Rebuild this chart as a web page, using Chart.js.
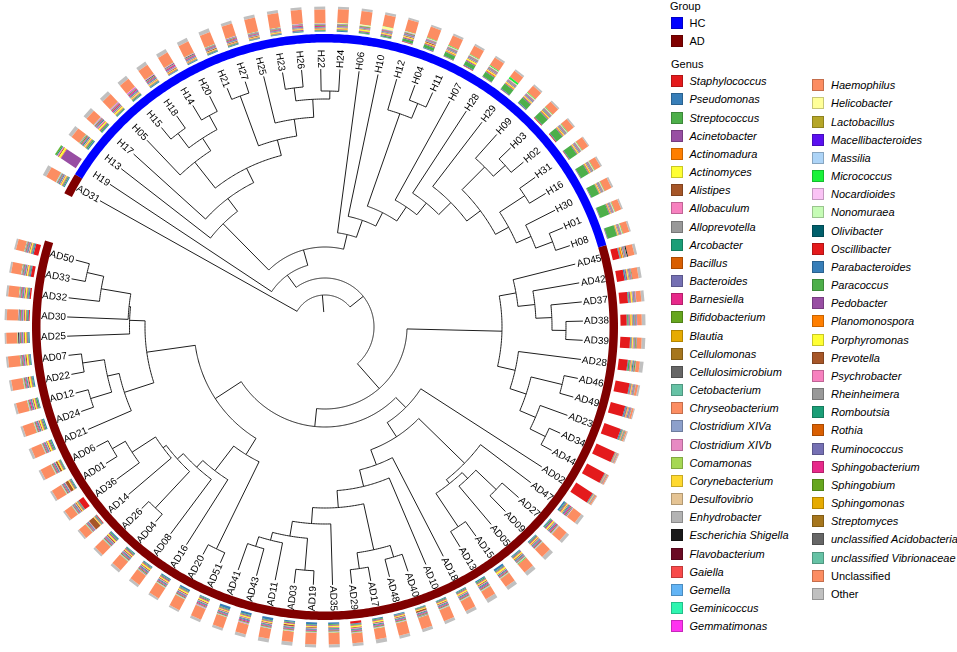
<!DOCTYPE html>
<html><head><meta charset="utf-8">
<script src="https://cdn.jsdelivr.net/npm/chart.js"></script>
<style>
html,body{margin:0;padding:0;background:#fff;}
#wrap{position:relative;width:957px;height:652px;overflow:hidden;font-family:"Liberation Sans",Arial,Helvetica,sans-serif;color:#000;}
#tree{position:absolute;left:0;top:0;}
#labels,#legend{position:absolute;left:0;top:0;}
.tipwrap{position:absolute;width:0;height:0;transform-origin:0 0;}
.tip{position:absolute;top:-5px;font-size:10px;line-height:10px;white-space:nowrap;}
.tip.r{left:0;} .tip.l{right:0;}
.lg-title{position:absolute;font-size:11px;line-height:12px;white-space:nowrap;}
.lg-sq{position:absolute;width:12px;height:12px;box-shadow:inset 0 0 0 1px rgba(0,0,0,0.22);}
.lg-tx{position:absolute;font-size:11px;line-height:12px;white-space:nowrap;}
</style></head>
<body><div id="wrap"><canvas id="tree" width="650" height="652"></canvas><div id="labels"></div><div id="legend"></div></div>
<script>
// ---------------- data ----------------
const sampleOrder = ['AD31','H19','H13','H17','H05','H15','H18','H14','H20','H21',
 'H27','H25','H23','H26','H22','H24','H06','H10','H12','H04',
 'H11','H07','H28','H29','H09','H03','H02','H31','H16','H30',
 'H01','H08','AD45','AD42','AD37','AD38','AD39','AD28','AD46','AD49',
 'AD23','AD34','AD44','AD02','AD47','AD27','AD09','AD05','AD15','AD13',
 'AD18','AD10','AD40','AD48','AD17','AD29','AD35','AD19','AD03','AD11',
 'AD43','AD41','AD51','AD20','AD16','AD08','AD04','AD26','AD14','AD36',
 'AD01','AD06','AD21','AD24','AD12','AD22','AD07','AD25','AD30','AD32',
 'AD33','AD50'];

const groupNames = ['HC','AD'];
const groupColors = ['#0000FF','#800000'];

const genusNames = ['Staphylococcus','Pseudomonas','Streptococcus','Acinetobacter','Actinomadura','Actinomyces','Alistipes','Allobaculum','Alloprevotella','Arcobacter','Bacillus','Bacteroides','Barnesiella','Bifidobacterium','Blautia','Cellulomonas','Cellulosimicrobium','Cetobacterium','Chryseobacterium','Clostridium XIVa','Clostridium XIVb','Comamonas','Corynebacterium','Desulfovibrio','Enhydrobacter','Escherichia Shigella','Flavobacterium','Gaiella','Gemella','Geminicoccus','Gemmatimonas',
 'Haemophilus','Helicobacter','Lactobacillus','Macellibacteroides','Massilia','Micrococcus','Nocardioides','Nonomuraea','Olivibacter','Oscillibacter','Parabacteroides','Paracoccus','Pedobacter','Planomonospora','Porphyromonas','Prevotella','Psychrobacter','Rheinheimera','Romboutsia','Rothia','Ruminococcus','Sphingobacterium','Sphingobium','Sphingomonas','Streptomyces','unclassified Acidobacteria','unclassified Vibrionaceae','Unclassified','Other'];
const genusColors = ['#E41A1C','#377EB8','#4DAF4A','#984EA3','#FF7F00','#FFFF33','#A65628','#F781BF','#999999','#1B9E77','#D95F02','#7570B3','#E7298A','#66A61E','#E6AB02','#A6761D','#666666','#66C2A5','#FC8D62','#8DA0CB','#E78AC3','#A6D854','#FFD92F','#E5C494','#B3B3B3','#1A1A1A','#6A0A24','#F84A4A','#62B4F5','#2EF5B0','#FF33F0',
 '#FC8D62','#FFFF99','#B5A628','#5A10F0','#ADD4F7','#1AF23A','#FAC3F5','#C6FCB6','#005F6B','#E41A1C','#377EB8','#4DAF4A','#984EA3','#FF7F00','#FFFF33','#A65628','#F781BF','#999999','#1B9E77','#D95F02','#7570B3','#E7298A','#66A61E','#E6AB02','#A6761D','#666666','#66C2A5','#FC8D62','#C0C0C0'];
const legendLeftCount = 31;

// relative abundance (%) per sample, in sampleOrder
const staphylococcus = [0,0,0,0,0,0,0,0,0,0, 0,0,0,0,0,0,0,0,2,1, 1,2,1,1,1,3,3,2,1,1, 1,1,26,30,33,20,40,36,58,62, 68,84,82,78,0,0,0,0,0,0, 0,0,0,0,0,9,0,0,0,0, 0,0,0,0,0,0,0,0,3,24, 0,0,0,0,0,0,0,0,3,5, 12,20];
const pseudomonas = [4,0,5,3,2,3,4,2,3,3, 3,2,2,3,2,4,2,2,2,3, 2,3,2,3,4,2,2,3,2,2, 2,2,2,5,3,2,3,3,3,4, 4,2,2,3,6,3,3,3,8,4, 3,3,2,3,3,3,6,8,4,10, 8,10,3,6,4,3,3,4,3,2, 3,2,4,4,3,4,3,4,3,4, 4,5];
const streptococcus = [4,0,6,5,4,4,3,2,2,3, 3,2,2,2,3,3,4,5,10,12, 15,15,20,24,25,30,30,35,35,35, 40,40,2,2,3,4,2,6,2,2, 3,1,1,1,3,4,3,3,3,4, 3,3,3,2,3,3,3,3,3,3, 3,3,3,3,3,3,3,4,3,3, 3,3,4,4,5,3,3,3,3,3, 3,3];
const acinetobacter = [3,60,3,4,2,3,2,2,2,2, 2,2,2,4,2,2,4,4,4,4, 2,4,3,3,4,3,3,3,3,2, 3,2,2,4,5,4,2,3,3,4, 2,1,1,1,4,5,3,3,3,3, 3,3,2,3,3,2,3,3,4,3, 4,3,4,3,4,3,4,4,3,3, 3,3,4,3,3,3,3,3,3,3, 3,3];
const actinomadura = [2,2,2,2,2,1,2,3,2,2, 2,2,2,2,2,2,2,2,2,3, 3,2,4,3,2,3,3,2,3,2, 2,2,5,2,2,3,2,2,2,2, 1,1,1,1,2,2,2,2,2,2, 2,2,2,2,2,2,2,2,2,2, 2,2,2,2,2,2,2,2,2,2, 2,2,2,2,2,2,2,2,2,2, 2,2];
const actinomyces = [4,6,4,5,5,4,3,2,2,2, 2,2,2,2,2,3,5,3,3,2, 3,5,4,3,3,3,3,3,3,3, 2,3,2,3,4,3,3,2,2,2, 1,1,1,1,3,4,3,4,5,3, 4,3,3,3,4,5,3,3,3,3, 4,3,5,4,3,4,3,4,3,3, 3,4,5,4,4,5,5,5,3,4, 4,4];
const alistipes = [2,3,2,2,2,2,2,3,2,4, 3,3,2,2,2,2,2,2,3,4, 2,2,2,2,2,2,2,2,2,2, 2,2,3,2,2,3,2,2,2,2, 1,1,1,1,2,2,2,3,2,3, 2,3,6,3,3,3,2,3,5,3, 2,3,3,3,3,3,3,4,25,4, 12,6,3,3,3,4,4,3,3,3, 3,3];
const allobaculum = [3,4,3,5,3,3,3,3,2,2, 2,2,2,2,2,2,2,2,2,2, 2,2,2,2,2,2,2,2,2,2, 2,2,2,2,2,2,2,2,2,2, 1,1,1,1,2,3,3,2,3,3, 3,3,3,3,3,4,3,3,3,3, 3,3,3,3,3,3,3,3,3,3, 3,3,3,3,3,3,4,3,3,3, 3,3];
const arcobacter = [3,4,4,3,3,3,3,2,2,2, 2,2,2,2,2,2,2,2,2,2, 2,2,2,2,2,2,2,2,2,2, 2,2,2,2,2,2,2,4,2,2, 2,1,1,1,3,3,3,3,3,3, 3,3,3,3,3,3,3,3,3,3, 3,3,3,3,3,3,3,3,3,3, 3,3,3,3,3,3,3,3,3,3, 3,3];
const bacteroides = [3,0,3,3,2,3,3,2,3,2, 3,2,2,3,2,3,2,2,3,2, 2,2,2,2,3,2,2,2,2,2, 2,2,2,2,3,3,2,2,2,3, 1,1,1,1,4,3,3,3,3,4, 3,3,3,3,3,3,3,3,3,3, 4,3,3,3,3,3,3,3,3,3, 3,3,3,3,3,3,3,3,3,3, 3,3];
const barnesiella = [2,0,3,3,5,5,4,5,4,3, 4,3,3,4,4,2,2,2,2,2, 2,2,2,2,2,2,2,2,2,2, 2,2,2,2,2,2,2,2,2,2, 1,1,1,1,4,4,3,2,3,3, 3,3,3,3,3,3,3,3,3,3, 4,3,4,3,3,3,3,3,3,3, 3,3,3,3,4,3,3,3,3,3, 3,3];
const bifidobacterium = [3,4,4,3,3,3,3,2,2,2, 3,2,2,2,3,3,3,2,3,2, 2,2,2,2,2,2,2,2,2,2, 2,2,2,2,2,2,3,4,2,2, 2,1,1,1,3,3,3,3,3,3, 3,3,3,3,3,3,3,3,3,3, 3,3,3,3,3,3,3,3,3,3, 3,3,3,3,3,3,3,3,3,3, 3,3];
const clostridiumXIVa = [3,0,2,2,2,2,2,2,2,2, 2,2,2,2,2,2,2,2,2,2, 2,2,2,2,2,2,2,2,2,2, 2,2,2,2,2,2,2,2,2,2, 1,1,1,1,2,2,2,2,2,2, 2,2,2,2,2,2,2,2,2,2, 2,2,2,2,2,2,2,2,2,2, 2,2,2,2,2,2,2,2,2,2, 2,2];
const escherichia = [0,0,1,0,0,1,2,2,2,1, 1,1,1,1,1,1,0,0,0,0, 0,0,0,0,0,0,0,0,0,0, 0,0,4,1,0,1,1,0,0,0, 0,0,0,0,1,0,0,0,0,0, 0,0,1,0,0,0,0,0,0,0, 0,0,0,0,0,1,0,0,0,0, 0,0,0,0,0,0,1,4,2,1, 1,1];
const gemmatimonas = [1,0,1,2,3,3,3,2,2,1, 2,1,1,2,2,1,0,1,1,1, 1,1,1,1,1,1,1,1,1,1, 1,1,0,0,1,1,0,0,0,0, 0,0,0,0,2,2,1,1,1,1, 1,1,1,1,1,1,1,1,1,1, 2,1,2,1,1,1,1,1,1,1, 1,1,1,1,1,1,1,1,1,1, 1,1];
const helicobacter = [1,0,1,1,1,1,1,1,1,1, 1,1,1,1,1,3,4,10,2,2, 2,2,2,2,2,2,2,2,2,2, 2,2,0,0,0,0,0,0,0,0, 0,0,0,0,1,1,1,1,1,1, 1,1,1,1,1,1,1,1,1,1, 1,1,1,1,1,1,1,1,1,1, 1,1,1,1,1,1,1,1,1,1, 1,1];
const micrococcus = [1,1,1,1,1,1,1,1,1,1, 1,1,1,1,1,1,1,1,1,2, 3,2,3,8,3,2,2,2,2,2, 2,2,0,0,0,0,0,0,0,0, 0,0,0,0,1,1,1,3,1,1, 1,1,1,1,1,1,1,1,1,1, 1,1,1,1,1,1,1,1,1,1, 1,1,1,1,1,1,1,1,1,1, 1,1];
const unclassified = [42,0,38,35,40,40,45,45,50,50, 50,55,55,55,55,55,55,45,45,45, 40,35,35,30,35,30,30,30,28,32, 28,28,25,25,20,15,20,15,10,8, 5,4,5,5,35,35,35,38,35,30, 40,45,45,50,40,40,45,45,40,40, 40,45,45,45,45,40,40,40,35,35, 40,40,40,40,40,42,45,40,40,40, 40,35];
const other = [15,0,15,15,15,15,15,15,15,15, 12,12,12,10,12,10,10,10,8,8, 8,8,8,8,8,7,7,5,7,8, 7,7,10,12,12,12,15,15,8,5, 5,3,3,3,12,12,15,15,15,15, 12,12,12,12,15,12,12,12,15,15, 12,10,10,8,8,10,10,8,8,8, 8,8,10,8,8,8,8,6,8,8, 8,8];

// series (legend index, values), stacked inner -> outer in legend order
const barSeries = [[0,staphylococcus],[1,pseudomonas],[2,streptococcus],[3,acinetobacter],[4,actinomadura],[5,actinomyces],[6,alistipes],[7,allobaculum],[9,arcobacter],[11,bacteroides],[12,barnesiella],[13,bifidobacterium],[19,clostridiumXIVa],[25,escherichia],[30,gemmatimonas],[32,helicobacter],[36,micrococcus],[58,unclassified],[59,other]];

// dendrogram: [merge height, child, child]; tips at height 0
const cladeK = [33,[15,'H15','H18'],[17,'H14','H20']];
const cladeI = [65,[12,'H21','H27'],[48,'H25',[30,[17,'H23','H26'],[22,'H22','H24']]]];
const cladeF = [113,'H13',[97,'H17',[81,[48,'H05',cladeK],cladeI]]];
const cladeX = [49,[19,'H31','H16'],[33,'H30',[15,'H01','H08']]];
const cladeM = [163,'H06',[145,'H10',[130,[32,'H12',[16,'H04','H11']],[113,'H07',[98,'H28',[81,'H29',[64,[32,'H09',[16,'H03','H02']],cladeX]]]]]]];
const cladeD = [194,'H19',[178,cladeF,cladeM]];
const cladeZ = [81,[64,'AD45',[47,'AD42',[31,'AD37',[17,'AD38','AD39']]]],[63,'AD28',[46,[14,'AD46','AD49'],[29,'AD23',[12,'AD34','AD44']]]]];
const cladeLRb = [63,'AD47',[58,[50,[22,'AD27','AD09'],'AD05'],[18,'AD15','AD13']]];
const cladeLRh = [46,[14,'AD19','AD03'],[38,'AD11',[28,'AD43','AD41']]];
const cladeLRd = [111,'AD18',[94,'AD10',[77,[30,[18,'AD40','AD48'],[14,'AD17','AD29']],[61,'AD35',cladeLRh]]]];
const cladeLR = [144,'AD02',[127,cladeLRb,cladeLRd]];
const cladeLLc = [108,[11,'AD51','AD20'],[77,'AD16',[68,'AD08',[60,[10,'AD04','AD26'],[56,'AD14',[28,'AD36',[13,'AD01','AD06']]]]]]];
const cladeLLb = [78,[47,'AD21',[35,[13,'AD24','AD12'],[13,'AD22','AD07']]],[62.5,'AD25',[61,'AD30',[31,'AD32',[14,'AD33','AD50']]]]];
const cladeL = [176,cladeZ,[158,cladeLR,[127,cladeLLc,cladeLLb]]];
const dendrogram = [226,'AD31',[209,cladeD,cladeL]];
const rootEdgeHeight = 243;

// ---------------- layout ----------------
const TIP_R = 258, OPEN_ANGLE = 10, START_ANGLE = 150.7;
const RING_R = 288.75, RING_W = 8.5, BAR_R0 = 295.5, BAR_R1 = 320.5, BAR_W = 11;
const nS = sampleOrder.length;
const step = (360 - OPEN_ANGLE) / nS;
const rad = d => d * Math.PI / 180;
const P = (r, a) => ({x: r * Math.cos(rad(a)), y: r * Math.sin(rad(a))});
const GAP = () => ({x: NaN, y: NaN});
const leafAngle = {};
sampleOrder.forEach((s, i) => { leafAngle[s] = START_ANGLE - i * step; });

function arcPts(r, a1, a2, out) {
  const n = Math.max(2, Math.ceil(Math.abs(a2 - a1) / 0.5) + 1);
  for (let k = 0; k < n; k++) out.push(P(r, a1 + (a2 - a1) * k / (n - 1)));
  out.push(GAP());
}
const treePts = [];
function walk(node) {
  if (typeof node === 'string') return {a: leafAngle[node], r: TIP_R};
  const r = TIP_R - node[0];
  const kids = node.slice(1).map(walk);
  arcPts(r, kids[0].a, kids[kids.length - 1].a, treePts);
  kids.forEach(k => { treePts.push(P(r, k.a), P(k.r, k.a), GAP()); });
  return {a: (kids[0].a + kids[kids.length - 1].a) / 2, r};
}
const rootInfo = walk(dendrogram);
treePts.push(P(TIP_R - rootEdgeHeight, rootInfo.a), P(rootInfo.r, rootInfo.a), GAP());

// group ring
const grp = i => sampleOrder[i].startsWith('H') ? 0 : 1;
const ringPts = [[], []];
let runStart = 0;
for (let i = 1; i <= nS; i++) {
  if (i === nS || grp(i) !== grp(runStart)) {
    arcPts(RING_R, leafAngle[sampleOrder[runStart]] + step / 2, leafAngle[sampleOrder[i - 1]] - step / 2, ringPts[grp(runStart)]);
    runStart = i;
  }
}

// stacked radial bars
const totals = sampleOrder.map((s, i) => barSeries.reduce((t, ser) => t + ser[1][i], 0));
const cum = sampleOrder.map(() => 0);
const datasets = [];
barSeries.forEach(([g, vals]) => {
  const pts = [];
  sampleOrder.forEach((s, i) => {
    const v = vals[i];
    if (!v) return;
    const a = leafAngle[s];
    const r0 = BAR_R0 + (BAR_R1 - BAR_R0) * cum[i] / totals[i];
    cum[i] += v;
    const r1 = BAR_R0 + (BAR_R1 - BAR_R0) * cum[i] / totals[i];
    pts.push(P(r0, a), P(r1, a), GAP());
  });
  datasets.push({data: pts, borderColor: genusColors[g], borderWidth: BAR_W, borderCapStyle: 'butt', order: 3});
});
ringPts.forEach((pts, g) => datasets.push({data: pts, borderColor: groupColors[g], borderWidth: RING_W, borderCapStyle: 'butt', order: 2}));
datasets.push({data: treePts, borderColor: '#1e1e1e', borderWidth: 1, borderCapStyle: 'butt', order: 1});
// solid "dash" forces the exact per-point path (no same-x pixel merging)
datasets.forEach(d => Object.assign(d, {showLine: true, spanGaps: false, pointRadius: 0, pointHoverRadius: 0, tension: 0, fill: false, borderDash: [100000, 0], borderJoinStyle: 'miter'}));

const labelPlugin = {
  id: 'tipLabels',
  afterRender(chart) {
    if (chart.$tipsDone) return; chart.$tipsDone = true;
    const xs = chart.scales.x, ys = chart.scales.y, host = document.getElementById('labels');
    sampleOrder.forEach(s => {
      const a = leafAngle[s], p = P(TIP_R + 1.5, a);
      const right = Math.cos(rad(a)) >= 0;
      const o = document.createElement('div');
      o.className = 'tipwrap';
      o.style.left = xs.getPixelForValue(p.x) + 'px';
      o.style.top = ys.getPixelForValue(p.y) + 'px';
      o.style.transform = 'rotate(' + (right ? -a : 180 - a) + 'deg)';
      const t = document.createElement('span');
      t.className = 'tip ' + (right ? 'r' : 'l');
      t.textContent = s;
      o.appendChild(t); host.appendChild(o);
    });
  }
};

new Chart(document.getElementById('tree'), {
  type: 'scatter',
  data: {datasets},
  options: {
    responsive: false, animation: false, events: [],
    layout: {padding: 0},
    plugins: {legend: {display: false}, tooltip: {enabled: false}},
    scales: {x: {type: 'linear', min: -325, max: 325, display: false},
             y: {type: 'linear', min: -325, max: 327, display: false}}
  },
  plugins: [labelPlugin]
});

// ---------------- legend ----------------
(function () {
  const L = document.getElementById('legend');
  const add = (cls, x, y, txt, style) => { const e = document.createElement('div'); e.className = cls; e.style.left = x + 'px'; e.style.top = y + 'px'; if (txt) e.textContent = txt; if (style) Object.assign(e.style, style); L.appendChild(e); return e; };
  add('lg-title', 670, -0.5, 'Group');
  groupNames.forEach((g, i) => { const cy = 22.5 + i * 18.2; add('lg-sq', 671, cy - 6, '', {background: groupColors[i]}); add('lg-tx', 689.5, cy - 6, g); });
  add('lg-title', 671, 57.8, 'Genus');
  genusNames.forEach((g, i) => {
    const left = i < legendLeftCount;
    const k = left ? i : i - legendLeftCount;
    const cy = (left ? 81.2 : 85.2) + k * 18.17;
    const sx = left ? 671 : 812, tx = left ? 689.5 : 831;
    add('lg-sq', sx, cy - 6, '', {background: genusColors[i]});
    add('lg-tx', tx, cy - 6, g, {fontStyle: (g === 'Unclassified' || g === 'Other') ? 'normal' : 'italic'});
  });
})();
</script>
</body></html>
